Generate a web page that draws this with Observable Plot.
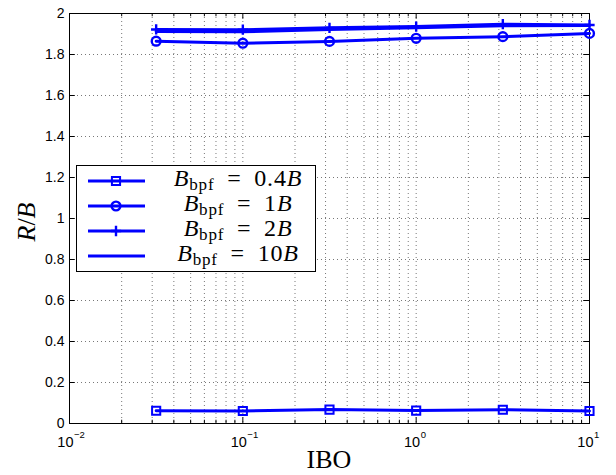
<!DOCTYPE html>
<html><head><meta charset="utf-8">
<script src="https://cdn.jsdelivr.net/npm/d3@7"></script>
<script src="https://cdn.jsdelivr.net/npm/@observablehq/plot@0.6"></script>
<style>body{margin:0;background:#fff}</style>
</head><body><div id="chart"></div>
<script>
// ---- data ----
const ibo = [0.03162, 0.1, 0.3162, 1, 3.162, 10];
const r04 = [0.062, 0.061, 0.068, 0.063, 0.067, 0.061];
const r1  = [1.865, 1.855, 1.864, 1.879, 1.887, 1.903];
const r2  = [1.922, 1.921, 1.930, 1.936, 1.948, 1.944];
const r10 = [1.912, 1.911, 1.922, 1.930, 1.940, 1.942];
const seriesNames = ["0.4B", "1B", "2B", "10B"];
const legendCoeffs = ["0.4", "1", "2", "10"];
const seriesValues = [r04, r1, r2, r10];
const seriesSymbols = ["square", "circle", "plus", null];
const xMajor = [0.01, 0.1, 1, 10];
const xExponents = ["\u22122", "\u22121", "0", "1"];
const xMinor = [0.02,0.03,0.04,0.05,0.06,0.07,0.08,0.09,0.2,0.3,0.4,0.5,0.6,0.7,0.8,0.9,2,3,4,5,6,7,8,9];
const yTicks = [0, 0.2, 0.4, 0.6, 0.8, 1, 1.2, 1.4, 1.6, 1.8, 2];

const rows = seriesNames.flatMap((s, i) => seriesValues[i].map((v, j) => ({series: s, ibo: ibo[j], r: v})));
const blue = "#0000ff";
const sans = "'Liberation Sans', Arial, Helvetica, sans-serif";
const serif = "'Liberation Serif', 'Times New Roman', serif";
const gridStyle = {stroke: "#555", strokeDasharray: "1,3", strokeWidth: 0.8};

const symR = {square: 4.6, circle: 4.4, plus: 3.4};
const symW = {square: 2, circle: 2.4, plus: 2.4};

const chart = Plot.plot({
  width: 616, height: 475,
  marginLeft: 69, marginRight: 27, marginTop: 13, marginBottom: 52,
  style: {fontFamily: sans, fontSize: "14px", background: "#fff", color: "#000", overflow: "visible"},
  x: {type: "log", domain: [0.01, 10], axis: null},
  y: {domain: [0, 2], axis: null},
  marks: [
    Plot.ruleX([...xMinor, 0.1, 1], gridStyle),
    Plot.ruleY(yTicks.slice(1, -1), gridStyle),
    // inward ticks
    Plot.ruleX(xMajor, {y1: 0, y2: 0.028, stroke: "#000", strokeWidth: 1}),
    Plot.ruleX(xMajor, {y1: 2, y2: 1.972, stroke: "#000", strokeWidth: 1}),
    Plot.ruleX(xMinor, {y1: 0, y2: 0.016, stroke: "#000", strokeWidth: 1}),
    Plot.ruleX(xMinor, {y1: 2, y2: 1.984, stroke: "#000", strokeWidth: 1}),
    Plot.ruleY(yTicks, {x1: 0.01, x2: 0.0108, stroke: "#000", strokeWidth: 1}),
    Plot.ruleY(yTicks, {x1: 9.26, x2: 10, stroke: "#000", strokeWidth: 1}),
    Plot.frame({stroke: "#000", strokeWidth: 1}),
    // tick labels
    Plot.axisY({ticks: yTicks, tickSize: 0, tickPadding: 5, label: null, fontSize: 14, tickFormat: d => String(d)}),
    Plot.text(xMajor, {x: d => d, y: 0, text: () => "10", textAnchor: "end", dx: 4, dy: 19, fontSize: 14.5}),
    Plot.text(xMajor, {x: d => d, y: 0, text: (d, i) => xExponents[i], textAnchor: "start", dx: 4.5, dy: 11, fontSize: 9.5}),
    // data
    Plot.line(rows, {x: "ibo", y: "r", z: "series", stroke: blue, strokeWidth: 3}),
    ...seriesNames.map((s, i) => seriesSymbols[i] ? Plot.dot(rows.filter(d => d.series === s), {
      x: "ibo", y: "r", symbol: seriesSymbols[i], r: symR[seriesSymbols[i]],
      stroke: blue, strokeWidth: symW[seriesSymbols[i]], fill: "none"
    }) : null).filter(Boolean)
  ]
});

const svg = d3.select(chart);
// x label
svg.append("text").attr("x", 329).attr("y", 468).attr("text-anchor", "middle")
  .attr("font-family", serif).attr("font-size", 26).attr("fill", "#000").text("IBO");
// y label
const yl = svg.append("text").attr("transform", "translate(35,222) rotate(-90)")
  .attr("text-anchor", "middle").attr("font-family", serif).attr("font-size", 26).attr("fill", "#000");
yl.append("tspan").attr("font-style", "italic").text("R");
yl.append("tspan").text("/");
yl.append("tspan").attr("font-style", "italic").text("B");

// legend
const lg = svg.append("g");
lg.append("rect").attr("x", 76.5).attr("y", 165.5).attr("width", 239).attr("height", 106)
  .attr("fill", "#fff").attr("stroke", "#000").attr("stroke-width", 1);
seriesNames.forEach((s, i) => {
  const cy = 181 + i * 25;
  lg.append("line").attr("x1", 88).attr("x2", 145).attr("y1", cy).attr("y2", cy)
    .attr("stroke", blue).attr("stroke-width", 3);
  const sym = seriesSymbols[i];
  if (sym) {
    const r = symR[sym];
    const t = sym === "square" ? d3.symbolSquare : sym === "circle" ? d3.symbolCircle : d3.symbolPlus;
    lg.append("path").attr("d", d3.symbol(t, Math.PI * r * r)())
      .attr("transform", `translate(116,${cy})`).attr("fill", "none")
      .attr("stroke", blue).attr("stroke-width", symW[sym]);
  }
  const tx = lg.append("text").attr("x", 238).attr("y", cy + 5).attr("text-anchor", "middle")
    .attr("font-family", serif).attr("font-size", 24).attr("letter-spacing", 0.8).attr("fill", "#000");
  tx.append("tspan").attr("font-style", "italic").text("B");
  tx.append("tspan").attr("font-size", 17).attr("dy", 4).text("bpf");
  tx.append("tspan").attr("dy", -4).text("\u2002=\u2002" + legendCoeffs[i]);
  tx.append("tspan").attr("font-style", "italic").text("B");
});

document.getElementById("chart").appendChild(chart);
</script>
</body></html>
